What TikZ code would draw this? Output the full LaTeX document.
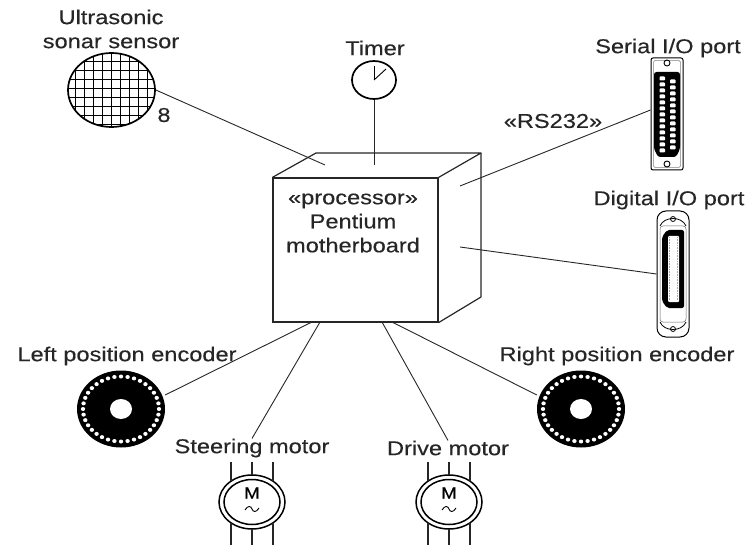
\documentclass[tikz,border=0pt]{standalone}
\usepackage{fontspec}
\setmainfont[FakeStretch=1.18, FakeBold=0.35]{Liberation Sans}
\usetikzlibrary{shapes.geometric,calc}
\begin{document}
\begin{tikzpicture}[x=1pt,y=-1pt,
  lbl/.style={font=\fontsize{20}{24}\selectfont, inner sep=0pt, text=black!85},
  wire/.style={line width=0.9pt, black!85},
  edgeline/.style={line width=1.2pt, black!85},
  encoder/.style={ellipse, fill=black, minimum width=88pt, minimum height=77pt, inner sep=0pt},
  motorring/.style={ellipse, draw, line width=1.5pt, minimum width=66pt, minimum height=54pt, inner sep=0pt},
  lead/.style={line width=1.6pt, black!85}]
\useasboundingbox (0,0) rectangle (746,545);

% ---------- ultrasonic sonar sensor (hatched disc) ----------
\begin{scope}
  \clip (111.5,90) ellipse [x radius=43.5pt, y radius=37pt];
  \foreach \gx in {0,...,10} \draw[line width=0.8pt] (68+9*\gx-2,50) -- (68+9*\gx-2,130);
  \foreach \gy in {0,...,9} \draw[line width=0.8pt] (65,52+9*\gy) -- (160,52+9*\gy);
\end{scope}
\node[ellipse, draw, line width=1.7pt, minimum width=87pt, minimum height=74pt, inner sep=0pt] (sonar) at (111.5,90) {};
\node[lbl, align=center] (sonarlbl) at (111,29) {Ultrasonic\\sonar sensor};
\node[lbl] (mult) at (164,115) {8};

% ---------- timer ----------
\node[ellipse, draw, line width=1.7pt, minimum width=44pt, minimum height=38pt, inner sep=0pt] (timer) at (374,80) {};
\coordinate (tc) at (374,80);
\draw[line width=0.9pt] (tc) -- (374,66);
\draw[line width=0.9pt] (tc) -- (386,69);
\node[lbl] (timerlbl) at (375,48) {Timer};

% ---------- processor node (cube) ----------
\node[draw, edgeline, minimum width=165pt, minimum height=144pt, inner sep=0pt] (cpu) at (355.5,250) {};
\draw[edgeline, line join=round] (cpu.north west) -- (316,153) -- (481,153) -- (cpu.north east);
\draw[edgeline, line join=round] (481,153) -- (481,297) -- (cpu.south east);
\node[lbl, align=center] (cputxt) at (353,223) {«processor»\\Pentium\\motherboard};

% connector ends on the cube faces
\coordinate (cpu-top-l) at (325,165);
\coordinate (cpu-top-c) at (374,165);
\coordinate (cpu-side-a) at (460,186);
\coordinate (cpu-side-b) at (460,247);
\coordinate (cpu-bot-1) at (312,322);
\coordinate (cpu-bot-2) at (320,322);
\coordinate (cpu-bot-3) at (382,322);
\coordinate (cpu-bot-4) at (392,322);

% ---------- serial I/O port (D-sub 25) ----------
\node[draw, line width=1pt, rounded corners=2pt, minimum width=32pt, minimum height=112pt, inner sep=0pt] (serial) at (667,114) {};
\draw[line width=0.5pt, black!50, rounded corners=1.5pt] (653.5,60.5) rectangle (680.5,167.5);
\fill[black, rounded corners=2.5pt] (654,72) -- (680,72) -- (680,149) -- (676,157) -- (658,157) -- (654,149) -- cycle;
\foreach \p in {0,...,12} \fill[white, rounded corners=0.8pt] (659.5,76.5+6*\p) rectangle (665,80.5+6*\p);
\foreach \p in {0,...,11} \fill[white, rounded corners=0.8pt] (670,79.5+6*\p) rectangle (675.5,83.5+6*\p);
\draw[line width=0.9pt] (667,63) circle [radius=3pt];
\draw[line width=0.9pt] (667,164) circle [radius=3pt];
\node[lbl] (seriallbl) at (668,48) {Serial I/O port};

% ---------- digital I/O port (Centronics) ----------
\node[draw, line width=1pt, rounded corners=9pt, minimum width=32pt, minimum height=126pt, inner sep=0pt] (dio) at (673,274) {};
\draw[line width=0.5pt, black!60, rounded corners=3pt] (660,226) rectangle (686,322);
\draw[line width=0.8pt] (660,226) .. controls (664,216) and (682,216) .. (686,226);
\draw[line width=0.8pt] (660,322) .. controls (664,332) and (682,332) .. (686,322);
\draw[line width=0.8pt] (673,219) circle [radius=2.5pt];
\draw[line width=0.8pt] (673,329) circle [radius=2.5pt];
\fill[black, rounded corners=2pt] (667,230) -- (684,230) -- (684,308) -- (667,308) -- (662,301) -- (662,237) -- cycle;
\fill[white, rounded corners=1pt] (668,236) rectangle (679,302);
\draw[black!35, line width=1.2pt, dash pattern=on 0.8pt off 0.8pt] (669.5,237) -- (669.5,301);
\draw[black!35, line width=1.2pt, dash pattern=on 0.8pt off 0.8pt] (677.5,237) -- (677.5,301);
\node[lbl] (diolbl) at (669,200) {Digital I/O port};

% ---------- position encoders ----------
\node[encoder] (lenc) at (121,409) {};
\node[encoder] (renc) at (581,409) {};
\foreach \c in {lenc,renc} {
  \foreach \a in {0,10,...,350}
    \fill[white] ($(\c)+(\a:38pt and 32.5pt)$) ellipse [x radius=2.2pt, y radius=2pt];
  \fill[white] (\c) ellipse [x radius=11pt, y radius=10pt];
}
\node[lbl] (lenclbl) at (127,356) {Left position encoder};
\node[lbl] (renclbl) at (617,356) {Right position encoder};

% ---------- motors ----------
\foreach \m/\mx in {smotor/252, dmotor/449} {
  \node[motorring] (\m) at (\mx,502) {};
  \draw[line width=1.5pt] (\mx,502) ellipse [x radius=28pt, y radius=22.5pt];
  \draw[lead] (\mx-21,462) -- (\mx-21,481);
  \draw[lead] (\mx,462) -- (\mx,475);
  \draw[lead] (\mx+21,462) -- (\mx+21,481);
  \draw[lead] (\mx-21,523) -- (\mx-21,545);
  \draw[lead] (\mx,529) -- (\mx,545);
  \draw[lead] (\mx+21,523) -- (\mx+21,545);
  \node[font=\fontsize{16}{16}\selectfont, inner sep=0pt] at (\mx,493) {M};
  \draw[line width=0.9pt] (\mx-7,510) .. controls (\mx-4,505) and (\mx-1,506) .. (\mx,509) .. controls (\mx+1,512) and (\mx+4,513) .. (\mx+7,508);
}
\node[lbl] (smotorlbl) at (252,448) {Steering motor};
\node[lbl] (dmotorlbl) at (448,448) {Drive motor};

% ---------- connections ----------
\draw[wire] (sonar.east) -- (cpu-top-l);
\draw[wire] (timer.south) -- (cpu-top-c);
\draw[wire] ([yshift=4pt]serial.west) -- (cpu-side-a);
\node[lbl] (rs232) at (553,121) {«RS232»};
\draw[wire] (dio.west) -- (cpu-side-b);
\draw[wire] (cpu-bot-1) -- ([yshift=14pt]lenc.east);
\draw[wire] (cpu-bot-2) -- (smotorlbl.north);
\draw[wire] (cpu-bot-3) -- (dmotorlbl.north);
\draw[wire] (cpu-bot-4) -- ([yshift=14pt]renc.west);
\end{tikzpicture}
\end{document}
